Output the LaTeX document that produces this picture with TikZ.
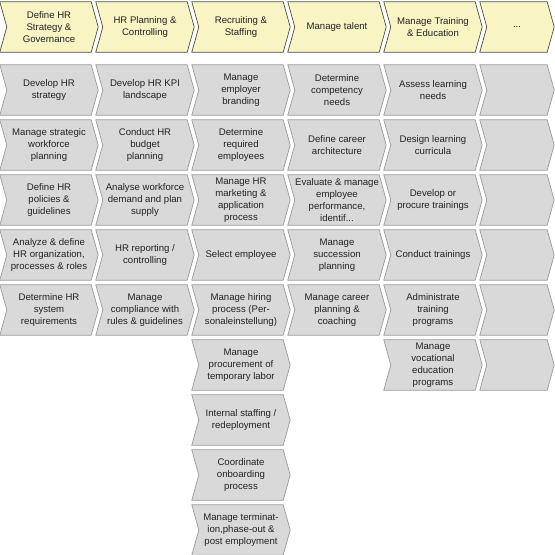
\documentclass[tikz,border=0pt]{standalone}
\usepackage{fontspec}
\setmainfont{Liberation Sans}
\usepackage{tikz}
\usetikzlibrary{backgrounds, calc}

\definecolor{headfill}{HTML}{F8F4C4}
\definecolor{headdraw}{HTML}{4D4D4D}
\definecolor{procfill}{HTML}{D9D9D9}
\definecolor{procdraw}{HTML}{9A9A9A}
\definecolor{txt}{HTML}{222222}

\begin{document}
\begin{tikzpicture}[
  x=1pt, y=-1pt,
  every node/.style={font=\fontsize{9.6}{12}\selectfont, text=txt},
  chevron/.style={rectangle, minimum width=84pt, minimum height=50pt,
    inner sep=0pt, align=center,
    append after command={\pgfextra{\begin{pgfonlayer}{background}
      \draw[line width=0.7pt, #1]
        ($(\tikzlastnode.north west)+(-7,0)$) -- (\tikzlastnode.north east)
        -- ($(\tikzlastnode.east)+(7,0)$) -- (\tikzlastnode.south east)
        -- ($(\tikzlastnode.south west)+(-7,0)$) -- (\tikzlastnode.west) -- cycle;
      \end{pgfonlayer}}}},
  head/.style={chevron={draw=headdraw, fill=headfill}},
  proc/.style={chevron={draw=procdraw, fill=procfill}},
  lastcol/.style={minimum width=60pt}
]
  \useasboundingbox (0,0) rectangle (555,555);

  % Value chain header
  \node[head] (hstrat) at (49,27) {Define HR\\Strategy \&\\Governance};
  \node[head] (hplan) at (145,27) {HR Planning \&\\Controlling};
  \node[head] (hrecr) at (241,27) {Recruiting \&\\Staffing};
  \node[head] (htal) at (337,27) {Manage talent};
  \node[head] (htrain) at (433,27) {Manage Training\\\& Education};
  \node[head, lastcol] (hmore) at (517,27) {...};

  % Define HR strategy & governance
  \node[proc] (strat1) at (49,90) {Develop HR\\strategy};
  \node[proc] (strat2) at (49,145) {Manage strategic\\workforce\\planning};
  \node[proc] (strat3) at (49,200) {Define HR\\policies \&\\guidelines};
  \node[proc] (strat4) at (49,255) {Analyze \& define\\HR organization,\\processes \& roles};
  \node[proc] (strat5) at (49,310) {Determine HR\\system\\requirements};

  % HR planning & controlling
  \node[proc] (plan1) at (145,90) {Develop HR KPI\\landscape};
  \node[proc] (plan2) at (145,145) {Conduct HR\\budget\\planning};
  \node[proc] (plan3) at (145,200) {Analyse workforce\\demand and plan\\supply};
  \node[proc] (plan4) at (145,255) {HR reporting /\\controlling};
  \node[proc] (plan5) at (145,310) {Manage\\compliance with\\rules \& guidelines};

  % Recruiting & staffing
  \node[proc] (recr1) at (241,90) {Manage\\employer\\branding};
  \node[proc] (recr2) at (241,145) {Determine\\required\\employees};
  \node[proc] (recr3) at (241,200) {Manage HR\\marketing \&\\application\\process};
  \node[proc] (recr4) at (241,255) {Select employee};
  \node[proc] (recr5) at (241,310) {Manage hiring\\process (Per-\\sonaleinstellung)};
  \node[proc] (recr6) at (241,365) {Manage\\procurement of\\temporary labor};
  \node[proc] (recr7) at (241,420) {Internal staffing /\\redeployment};
  \node[proc] (recr8) at (241,475) {Coordinate\\onboarding\\process};
  \node[proc] (recr9) at (241,530) {Manage terminat-\\ion,phase-out \&\\post employment};

  % Manage talent
  \node[proc] (tal1) at (337,90) {Determine\\competency\\needs};
  \node[proc] (tal2) at (337,145) {Define career\\architecture};
  \node[proc] (tal3) at (337,200) {Evaluate \& manage\\employee\\performance,\\identif...};
  \node[proc] (tal4) at (337,255) {Manage\\succession\\planning};
  \node[proc] (tal5) at (337,310) {Manage career\\planning \&\\coaching};

  % Manage training & education
  \node[proc] (train1) at (433,90) {Assess learning\\needs};
  \node[proc] (train2) at (433,145) {Design learning\\curricula};
  \node[proc] (train3) at (433,200) {Develop or\\procure trainings};
  \node[proc] (train4) at (433,255) {Conduct trainings};
  \node[proc] (train5) at (433,310) {Administrate\\training\\programs};
  \node[proc] (train6) at (433,365) {Manage\\vocational\\education\\programs};

  % Placeholder column
  \foreach \r/\y in {1/90, 2/145, 3/200, 4/255, 5/310, 6/365}
    \node[proc, lastcol] (more\r) at (517,\y) {};
\end{tikzpicture}
\end{document}
